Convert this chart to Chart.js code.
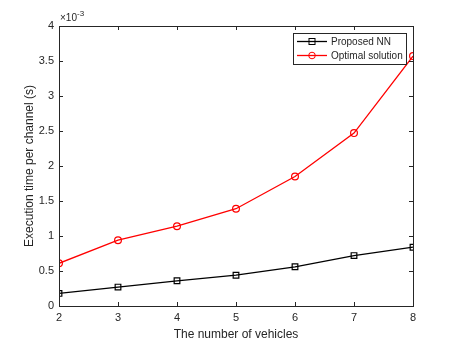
<!DOCTYPE html>
<html>
<head>
<meta charset="utf-8">
<script src="https://cdn.jsdelivr.net/npm/chart.js@4"></script>
<style>
  html, body { margin: 0; padding: 0; background: #fff; }
  #wrap { width: 457px; height: 344px; }
</style>
</head>
<body>
<div id="wrap"><canvas id="timeChart" width="457" height="344"></canvas></div>
<script>
// values, in units of 1e-3 s
const vehicles = [2, 3, 4, 5, 6, 7, 8];
const proposedNN = [0.18, 0.27, 0.36, 0.44, 0.56, 0.72, 0.84];
const optimalSol = [0.61, 0.94, 1.14, 1.39, 1.85, 2.47, 3.57];
const yTicks = [0, 0.5, 1, 1.5, 2, 2.5, 3, 3.5, 4];

const axisColor = '#262626';
const fontFamily = 'Helvetica, "Liberation Sans", Arial, sans-serif';

function toPoints(xs, ys) {
    return xs.map((x, i) => ({ x: x, y: ys[i] }));
}

// box, inward ticks, exponent label and legend, matlab style
const matlabAxes = {
    id: 'matlabAxes',
    afterDraw(chart) {
        const ctx = chart.ctx;
        const a = chart.chartArea;
        const xs = chart.scales.x;
        const ys = chart.scales.y;
        ctx.save();
        ctx.strokeStyle = axisColor;
        ctx.lineWidth = 1;
        ctx.strokeRect(Math.round(a.left) + 0.5, Math.round(a.top) + 0.5,
            Math.round(a.right - a.left), Math.round(a.bottom - a.top));

        const tl = 4;
        ctx.beginPath();
        vehicles.forEach(v => {
            const px = Math.round(xs.getPixelForValue(v)) + 0.5;
            ctx.moveTo(px, a.bottom); ctx.lineTo(px, a.bottom - tl);
            ctx.moveTo(px, a.top); ctx.lineTo(px, a.top + tl);
        });
        yTicks.forEach(t => {
            const py = Math.round(ys.getPixelForValue(t)) + 0.5;
            ctx.moveTo(a.left, py); ctx.lineTo(a.left + tl, py);
            ctx.moveTo(a.right, py); ctx.lineTo(a.right - tl, py);
        });
        ctx.stroke();

        // exponent
        ctx.fillStyle = axisColor;
        ctx.textBaseline = 'alphabetic';
        ctx.textAlign = 'left';
        ctx.font = '10px ' + fontFamily;
        ctx.fillText('\u00d710', a.left + 1, a.top - 5);
        const w = ctx.measureText('\u00d710').width;
        ctx.font = '8px ' + fontFamily;
        ctx.fillText('-3', a.left + 1 + w, a.top - 10);

        // legend
        const lx = 293, ly = 33, lw = 113, lh = 31;
        ctx.fillStyle = '#fff';
        ctx.fillRect(lx, ly, lw, lh);
        ctx.strokeStyle = axisColor;
        ctx.strokeRect(lx + 0.5, ly + 0.5, lw, lh);
        ctx.font = '10px ' + fontFamily;
        ctx.textBaseline = 'middle';
        chart.data.datasets.forEach((ds, i) => {
            const y = ly + 8.5 + i * 14;
            ctx.strokeStyle = ds.borderColor;
            ctx.lineWidth = ds.borderWidth;
            ctx.beginPath();
            ctx.moveTo(lx + 4, y); ctx.lineTo(lx + 34, y);
            ctx.stroke();
            ctx.lineWidth = 1;
            if (ds.pointStyle === 'rect') {
                ctx.strokeRect(lx + 16, y - 3, 6, 6);
            } else {
                ctx.beginPath();
                ctx.arc(lx + 19, y, 3.3, 0, Math.PI * 2);
                ctx.stroke();
            }
            ctx.fillStyle = axisColor;
            ctx.fillText(ds.label, lx + 38, y + 0.5);
        });
        ctx.restore();
    }
};

const ctx = document.getElementById('timeChart').getContext('2d');
new Chart(ctx, {
    type: 'line',
    data: {
        datasets: [{
            label: 'Proposed NN',
            data: toPoints(vehicles, proposedNN),
            borderColor: '#000000',
            borderWidth: 1.3,
            pointStyle: 'rect',
            pointRadius: 4,
            pointBorderWidth: 1.2,
            pointBackgroundColor: 'rgba(0,0,0,0)',
            pointBorderColor: '#000000'
        }, {
            label: 'Optimal solution',
            data: toPoints(vehicles, optimalSol),
            borderColor: '#ff0000',
            borderWidth: 1.3,
            pointStyle: 'circle',
            pointRadius: 3.4,
            pointBorderWidth: 1.2,
            pointBackgroundColor: 'rgba(0,0,0,0)',
            pointBorderColor: '#ff0000'
        }]
    },
    options: {
        responsive: false,
        animation: false,
        layout: { padding: { top: 26, right: 44, left: 0, bottom: 0 } },
        plugins: { legend: { display: false }, tooltip: { enabled: false } },
        scales: {
            x: {
                type: 'linear',
                min: 2, max: 8,
                afterFit: s => { s.height = 38; },
                afterBuildTicks: s => { s.ticks = vehicles.map(v => ({ value: v })); },
                grid: { display: false, drawTicks: false },
                border: { display: false },
                ticks: { color: axisColor, font: { family: fontFamily, size: 11 }, padding: 5, maxRotation: 0,
                    callback: v => String(v) },
                title: { display: true, text: 'The number of vehicles', color: axisColor,
                    font: { family: fontFamily, size: 12 }, padding: { top: 2, bottom: 2 } }
            },
            y: {
                type: 'linear',
                min: 0, max: 4,
                afterFit: s => { s.width = 59; },
                afterBuildTicks: s => { s.ticks = yTicks.map(v => ({ value: v })); },
                grid: { display: false, drawTicks: false },
                border: { display: false },
                ticks: { color: axisColor, font: { family: fontFamily, size: 11 }, padding: 5,
                    callback: v => String(v) },
                title: { display: true, text: 'Execution time per channel (s)', color: axisColor,
                    font: { family: fontFamily, size: 12 }, padding: { top: 22, bottom: 0 } }
            }
        }
    },
    plugins: [matlabAxes]
});
</script>
</body>
</html>
